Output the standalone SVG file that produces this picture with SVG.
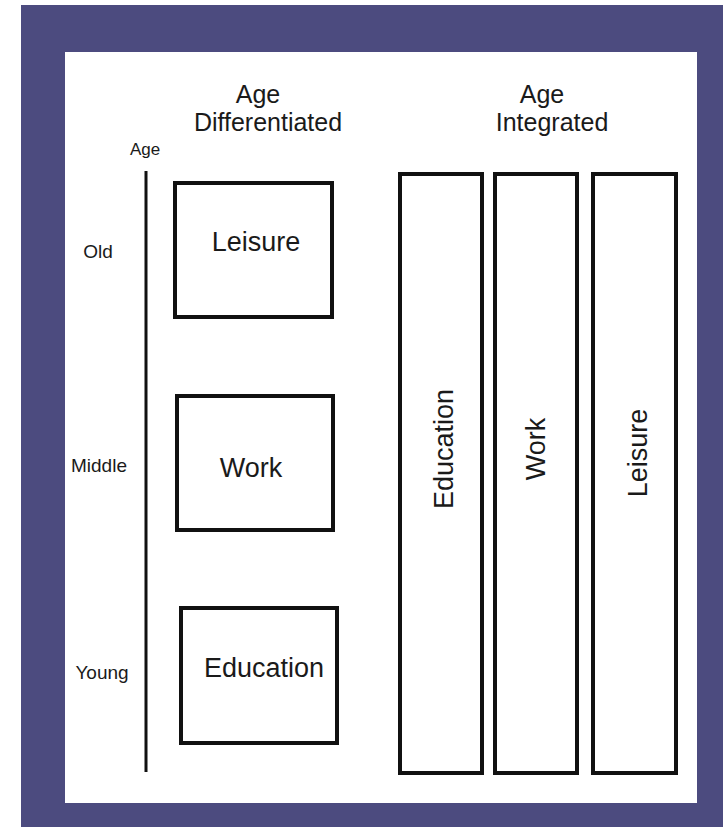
<svg xmlns="http://www.w3.org/2000/svg" width="728" height="827" viewBox="0 0 728 827">
<style>
.box{fill:#fff;stroke:#111;stroke-width:4}
.lbl{font-family:"Liberation Sans",Arial,sans-serif;fill:#1a1a1a;text-anchor:middle}
.big{font-size:27px}
.head{font-size:25px}
.side{font-size:19px}
</style>
<rect x="0" y="0" width="728" height="827" fill="#fff"/>
<rect x="21" y="5" width="702" height="822" fill="#4c4b7f"/>
<rect x="65" y="52" width="632" height="751" fill="#fff"/>
<g id="headings">
<text class="lbl head" x="258" y="103">Age</text>
<text class="lbl head" x="268" y="131">Differentiated</text>
<text class="lbl head" x="542" y="103">Age</text>
<text class="lbl head" x="552" y="131">Integrated</text>
</g>
<g id="axis">
<line x1="146" y1="171" x2="146" y2="772" stroke="#111" stroke-width="3"/>
<text class="lbl" style="font-size:17px" x="145" y="155">Age</text>
<text class="lbl side" x="98" y="258">Old</text>
<text class="lbl side" x="99" y="472">Middle</text>
<text class="lbl side" x="102" y="679">Young</text>
</g>
<g id="diff-leisure">
<rect class="box" x="175" y="183" width="157" height="134"/>
<text class="lbl big" x="256" y="251">Leisure</text>
</g>
<g id="diff-work">
<rect class="box" x="177" y="396" width="156" height="134"/>
<text class="lbl big" x="251" y="477">Work</text>
</g>
<g id="diff-education">
<rect class="box" x="181" y="608" width="156" height="135"/>
<text class="lbl big" x="264" y="677">Education</text>
</g>
<g id="int-education">
<rect class="box" x="400" y="174" width="82" height="599"/>
<text class="lbl big" transform="translate(453 449) rotate(-90)">Education</text>
</g>
<g id="int-work">
<rect class="box" x="495" y="174" width="82" height="599"/>
<text class="lbl big" transform="translate(545 449) rotate(-90)">Work</text>
</g>
<g id="int-leisure">
<rect class="box" x="593" y="174" width="83" height="599"/>
<text class="lbl big" transform="translate(647 453) rotate(-90)">Leisure</text>
</g>
<g id="connectors"></g>
</svg>
